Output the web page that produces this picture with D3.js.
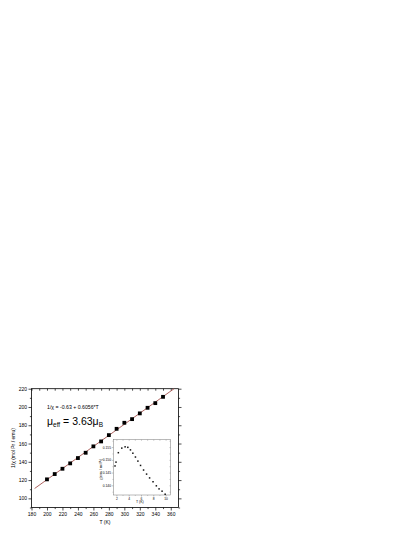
<!DOCTYPE html>
<html>
<head>
<meta charset="utf-8">
<script src="https://cdn.jsdelivr.net/npm/d3@7"></script>
<style>
  html, body { margin: 0; padding: 0; background: #fff; }
  svg { display: block; }
  text { font-family: "Liberation Sans", Arial, sans-serif; fill: #000; }
</style>
</head>
<body>
<div id="chart"></div>
<script>
// ---- data ----
const tempK = [200, 210, 220, 230, 240, 250, 260, 270, 280, 290, 300, 310, 320, 330, 340, 350];
const invChi = [120.8, 126.6, 132.4, 138.3, 144.1, 149.9, 156.9, 162.3, 169.2, 176.1, 182.7, 186.7, 193.0, 199.1, 204.2, 211.1];

// fit line 1/chi = -0.63 + 0.6056*T, endpoints as drawn
const fitT = [184, 364.3];
const fitInvChi = [110.8, 220];

const xTicks = [180, 200, 220, 240, 260, 280, 300, 320, 340, 360];
const yTicks = [100, 120, 140, 160, 180, 200, 220];

// inset: chi vs T at low temperature
const insetT = [1.78, 1.94, 2.32, 2.88, 3.42, 3.86, 4.29, 4.68, 5.1, 5.5, 5.93, 6.42, 6.91, 7.4, 7.96, 8.5, 8.94, 9.43, 9.93];
const insetChi = [0.1476, 0.1491, 0.1528, 0.1546, 0.1551, 0.1549, 0.1539, 0.1526, 0.1511, 0.1495, 0.1478, 0.1460, 0.1444, 0.1429, 0.1414, 0.1398, 0.1386, 0.1377, 0.1365];
const insetXTicks = [2, 4, 6, 8, 10];
const insetYTicks = [0.140, 0.145, 0.150, 0.155];

const W = 415, H = 537;
const svg = d3.select("#chart").append("svg").attr("width", W).attr("height", H);
svg.append("rect").attr("width", W).attr("height", H).attr("fill", "#fff");

// =============================
// main plot
// =============================
const L = 31.5, R = 178.5, T = 388.7, B = 507.5;
const x = d3.scaleLinear().domain([180, 370]).range([L, R]);
const y = d3.scaleLinear().domain([90, 220]).range([B, T]);

function styleAxis(g, fs) {
  g.select(".domain").remove();
  g.selectAll("line").attr("stroke", "#000").attr("stroke-width", 0.7);
  g.selectAll("text").attr("font-size", fs).attr("fill", "#000");
}

const minorX = d3.range(190, 370, 20);
const minorY = d3.range(90, 220, 20);

// bottom
svg.append("g").attr("transform", `translate(0,${B})`)
  .call(d3.axisBottom(x).tickValues(xTicks).tickSize(3).tickPadding(1.8).tickFormat(d3.format("d")))
  .call(g => styleAxis(g, 5));
svg.append("g").attr("transform", `translate(0,${B})`)
  .call(d3.axisBottom(x).tickValues(minorX).tickSize(1.6).tickFormat(""))
  .call(g => styleAxis(g, 5));
// top (ticks inward)
svg.append("g").attr("transform", `translate(0,${T})`)
  .call(d3.axisTop(x).tickValues(xTicks.concat(minorX)).tickSize(-2).tickFormat(""))
  .call(g => styleAxis(g, 5));
// left
svg.append("g").attr("transform", `translate(${L},0)`)
  .call(d3.axisLeft(y).tickValues(yTicks).tickSize(3).tickPadding(1.5).tickFormat(d3.format("d")))
  .call(g => styleAxis(g, 5));
svg.append("g").attr("transform", `translate(${L},0)`)
  .call(d3.axisLeft(y).tickValues(minorY).tickSize(1.6).tickFormat(""))
  .call(g => styleAxis(g, 5));
// right (ticks outward)
svg.append("g").attr("transform", `translate(${R},0)`)
  .call(d3.axisRight(y).tickValues(yTicks).tickSize(3).tickFormat(""))
  .call(g => styleAxis(g, 5));
svg.append("g").attr("transform", `translate(${R},0)`)
  .call(d3.axisRight(y).tickValues(minorY).tickSize(1.6).tickFormat(""))
  .call(g => styleAxis(g, 5));

// frame
svg.append("rect")
  .attr("x", L).attr("y", T).attr("width", R - L).attr("height", B - T)
  .attr("fill", "none").attr("stroke", "#000").attr("stroke-width", 0.8);

// fit line
svg.append("path")
  .datum(fitT.map((t, i) => [t, fitInvChi[i]]))
  .attr("fill", "none")
  .attr("stroke", "#a5514d")
  .attr("stroke-width", 0.9)
  .attr("d", d3.line().x(d => x(d[0])).y(d => y(d[1])));

// data points
const ms = 3.8;
svg.append("g").selectAll("rect")
  .data(tempK.map((t, i) => [t, invChi[i]]))
  .join("rect")
  .attr("x", d => x(d[0]) - ms / 2)
  .attr("y", d => y(d[1]) - ms / 2)
  .attr("width", ms).attr("height", ms)
  .attr("fill", "#000");

// axis titles
svg.append("text")
  .attr("x", (L + R) / 2).attr("y", 524)
  .attr("text-anchor", "middle").attr("font-size", 5)
  .text("T (K)");
svg.append("text")
  .attr("transform", `translate(15,${(T + B) / 2}) rotate(-90)`)
  .attr("text-anchor", "middle").attr("font-size", 5)
  .text("1/χ (mol Pr / emu)");

// annotations
svg.append("text")
  .attr("x", 47).attr("y", 408.5).attr("font-size", 5.2)
  .text("1/χ = -0.63 + 0.6056*T");

const mu = svg.append("text").attr("x", 47).attr("y", 424.5).attr("font-size", 10.5);
mu.append("tspan").text("μ");
mu.append("tspan").attr("font-size", 6.5).attr("dy", 2.5).text("eff");
mu.append("tspan").attr("dy", -2.5).text(" = 3.63");
mu.append("tspan").text("μ");
mu.append("tspan").attr("font-size", 6.5).attr("dy", 2.5).text("B");

// =============================
// inset
// =============================
const iL = 113.3, iR = 170.5, iT = 439.7, iB = 495;
const ix = d3.scaleLinear().domain([1.5, 10.8]).range([iL, iR]);
const iy = d3.scaleLinear().domain([0.1362, 0.1579]).range([iB, iT]);

svg.append("rect")
  .attr("x", iL).attr("y", iT).attr("width", iR - iL).attr("height", iB - iT)
  .attr("fill", "#fff").attr("stroke", "#777").attr("stroke-width", 0.5);

const insetMinorX = [3, 5, 7, 9];
const insetMinorY = [0.1375, 0.1425, 0.1475, 0.1525, 0.1575];

function styleInset(g) {
  g.select(".domain").remove();
  g.selectAll("line").attr("stroke", "#777").attr("stroke-width", 0.45);
  g.selectAll("text").attr("font-size", 3.3).attr("fill", "#333");
}

svg.append("g").attr("transform", `translate(0,${iB})`)
  .call(d3.axisBottom(ix).tickValues(insetXTicks).tickSize(1.5).tickPadding(0.8).tickFormat(d3.format("d")))
  .call(styleInset);
svg.append("g").attr("transform", `translate(0,${iB})`)
  .call(d3.axisBottom(ix).tickValues(insetMinorX).tickSize(0.8).tickFormat(""))
  .call(styleInset);
svg.append("g").attr("transform", `translate(0,${iT})`)
  .call(d3.axisTop(ix).tickValues(insetXTicks.concat(insetMinorX)).tickSize(-1).tickFormat(""))
  .call(styleInset);
svg.append("g").attr("transform", `translate(${iL},0)`)
  .call(d3.axisLeft(iy).tickValues(insetYTicks).tickSize(1.5).tickPadding(0.8).tickFormat(d3.format(".3f")))
  .call(styleInset);
svg.append("g").attr("transform", `translate(${iL},0)`)
  .call(d3.axisLeft(iy).tickValues(insetMinorY).tickSize(0.8).tickFormat(""))
  .call(styleInset);
svg.append("g").attr("transform", `translate(${iR},0)`)
  .call(d3.axisRight(iy).tickValues(insetYTicks.concat(insetMinorY)).tickSize(-1).tickFormat(""))
  .call(styleInset);

const ims = 1.5;
svg.append("g").selectAll("rect")
  .data(insetT.map((t, i) => [t, insetChi[i]]))
  .join("rect")
  .attr("x", d => ix(d[0]) - ims / 2)
  .attr("y", d => iy(d[1]) - ims / 2)
  .attr("width", ims).attr("height", ims)
  .attr("fill", "#111");

svg.append("text")
  .attr("x", (iL + iR) / 2 - 2).attr("y", 503.3)
  .attr("text-anchor", "middle").attr("font-size", 3.5).attr("fill", "#222")
  .text("T (K)");
svg.append("text")
  .attr("transform", `translate(101.5,${(iT + iB) / 2 + 2}) rotate(-90)`)
  .attr("text-anchor", "middle").attr("font-size", 3).attr("fill", "#333")
  .text("χ (emu / mol Pr)");
</script>
</body>
</html>
